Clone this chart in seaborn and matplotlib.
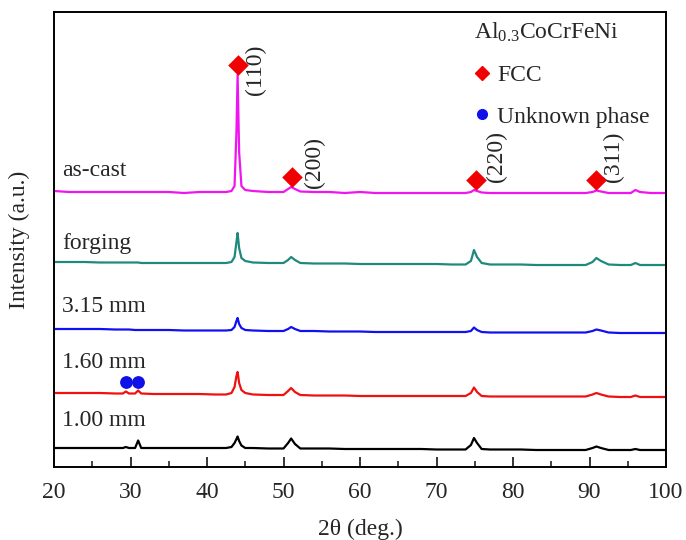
import numpy as np
import pandas as pd
import matplotlib
matplotlib.use("Agg")
import matplotlib.pyplot as plt
from matplotlib.lines import Line2D
from matplotlib.ticker import MultipleLocator
import seaborn as sns

# ---------------- data ----------------
two_theta = [20, 22, 24, 26, 28, 29.0, 29.4, 29.8, 30.6, 31.0, 31.4, 33, 35, 37, 39, 41,
             42.5, 43.2, 43.6, 43.85, 44.0, 44.2, 44.5, 45.0, 46, 48,
             50.0, 50.6, 51.0, 51.5, 52.2, 54, 56, 58, 60, 62, 64, 66, 68, 70, 72,
             73.8, 74.5, 74.9, 75.3, 75.9, 77, 79, 81, 83, 85, 87,
             89.5, 90.4, 90.9, 91.5, 92.5, 94, 95.4, 96.0, 96.6, 98, 100]

samples = ["as-cast", "forging", "3.15 mm", "1.60 mm", "1.00 mm"]
offsets = [275, 205, 138, 74, 19]

int_ascast = [1, 0, 0, 0, 0, 0, 0, 0, 0, 0, 0, 0, 0, -1, 0, 0,
              0, 1, 6, 60, 117, 40, 6, 2, 1, 0,
              0, 3, 5, 3, 0.5, 0, 0, -1, 0, -1, -1, -1, -1, -1, -1,
              -1, 0, 2, 1, -0.5, -1, -1, -1, -1, -1, -1,
              -1, 0, 1.5, 0.5, -1, -1, -1, 2, 0, -1, -1]
int_forging = [0, 0, 0, -0.5, -0.5, -0.5, -0.5, -0.5, -0.5, -0.5, -1, -1, -1, -1, -1, -1,
               -1, 0, 5, 20, 29, 14, 4, 1, -0.5, -1,
               -1, 2, 5, 2, -1, -1.5, -1.5, -1.5, -2, -2, -2, -2, -2, -2, -2.5,
               -2.5, 1, 12, 5, -1, -2.5, -2.5, -2.5, -3, -3, -3,
               -3, 0, 4, 1, -2.5, -3, -3, -1, -3, -3, -3]
int_315 = [0, 0, 0, 0, -0.5, -0.5, -0.5, -0.5, -1, -1, -1, -1, -1, -1.5, -1.5, -1.5,
           -1.5, -1, 2, 8, 11, 5, 1, -1, -1.5, -2,
           -2, 0, 2, 0, -2, -2, -2.5, -2.5, -2.5, -3, -3, -3, -3, -3, -3,
           -3, -2, 1.5, -1, -3, -3.5, -3.5, -3.5, -3.5, -3.5, -3.5,
           -3.5, -2, -0.5, -1.5, -3.5, -4, -4, -4, -4, -4, -4]
int_160 = [0, 0, 0, 0, -0.5, -0.5, 1.5, -0.5, -0.5, 2.5, -0.5, -1, -1, -1, -1, -1.5,
           -1.5, 0, 6, 17, 21, 10, 3, 0, -1.5, -2,
           -2, 2, 5, 1, -2, -2.5, -2.5, -2.5, -3, -3, -3, -3, -3, -3, -3,
           -3, 0, 5.5, 1, -3, -3.5, -3.5, -3.5, -3.5, -3.5, -3.5,
           -3.5, -1.5, 0, -1.5, -3.5, -4, -4, -2.5, -4, -4, -4]
int_100 = [0, 0, 0, 0, 0, 0, 1, 0, 0, 7.5, 0, 0, 0, 0, 0, 0,
           0, 1, 5, 9, 11.5, 7, 2.5, 0, 0, -0.5,
           -0.5, 5, 9.5, 4, -0.5, -0.5, -0.5, -1, -1, -1, -1, -1, -1, -1.5, -1.5,
           -1.5, 3, 10, 5, -1, -1.5, -1.5, -1.5, -2, -2, -2,
           -2, 0, 1.5, 0, -2, -2, -2, -1, -2, -2, -2]
intensities = [int_ascast, int_forging, int_315, int_160, int_100]

colors = ["#F014F0", "#1F8A7C", "#1010F0", "#F01010", "#000000"]

# peak markers
fcc_x = [44.0, 51.1, 75.2, 90.9]
fcc_y = [402, 290, 287, 287]
hkl_labels = ["(110)", "(200)", "(220)", "(311)"]
hkl_x = [46.3, 54.1, 77.9, 93.1]
hkl_y = [397, 305, 310, 310]
unk_x = [29.4, 31.0]
unk_y = [85, 85]

label_x = 21.1
label_y = [297, 224, 160, 105, 47]

# ---------------- build frame ----------------
rows = []
for s, off, inten in zip(samples, offsets, intensities):
    for x, v in zip(two_theta, inten):
        rows.append({"2theta": x, "I": off + v, "sample": s})
df = pd.DataFrame(rows)

# ---------------- plot ----------------
sns.set_theme(style="ticks")
plt.rcParams["font.family"] = ["Liberation Serif", "DejaVu Serif"]
plt.rcParams["mathtext.fontset"] = "custom"
plt.rcParams["mathtext.rm"] = "Liberation Serif"
plt.rcParams["mathtext.it"] = "Liberation Serif:italic"
FS = 17

fig = plt.figure(figsize=(6.86, 5.40), dpi=100)
ax = fig.add_axes([54 / 686, 1 - 467 / 540, 612 / 686, 455 / 540])

sns.lineplot(data=df, x="2theta", y="I", hue="sample", hue_order=samples,
             palette=dict(zip(samples, colors)), linewidth=1.6, legend=False,
             estimator=None, sort=False, ax=ax)

ax.scatter(fcc_x, fcc_y, marker="D", s=110, color="#F00000", zorder=5, linewidths=0)
ax.scatter(unk_x, unk_y, marker="o", s=85, color="#1010E8", zorder=5, linewidths=0)
for hx, hy, t in zip(hkl_x, hkl_y, hkl_labels):
    ax.text(hx, hy, t, rotation=90, ha="center", va="center", fontsize=FS)
for s, ly in zip(samples, label_y):
    ax.text(label_x, ly, s, ha="left", va="center", fontsize=FS)

handles = [Line2D([], [], marker="D", color="#F00000", ls="none", markersize=7),
           Line2D([], [], marker="o", color="#1010E8", ls="none", markersize=7)]
leg = ax.legend(handles, ["FCC", "Unknown phase"], title=r"Al$_{0.3}$CoCrFeNi",
                loc="upper left", bbox_to_anchor=(0.687, 0.980), frameon=False,
                fontsize=FS, title_fontsize=FS, handlelength=0.6, handletextpad=0.35,
                labelspacing=0.85, borderpad=0, borderaxespad=0, alignment="left")

ax.set_xlim(20, 100)
ax.set_ylim(0, 455)
ax.xaxis.set_major_locator(MultipleLocator(10))
ax.xaxis.set_minor_locator(MultipleLocator(5))
ax.tick_params(axis="x", which="major", direction="in", length=7, width=1.3,
               labelsize=FS, pad=11, top=False)
ax.tick_params(axis="x", which="minor", direction="in", length=4, width=1.2, top=False)
ax.set_yticks([])
ax.tick_params(axis="y", left=False, right=False)
for sp in ax.spines.values():
    sp.set_visible(True)
    sp.set_linewidth(1.4)
    sp.set_color("black")

ax.set_xlabel("2θ (deg.)", fontsize=FS, labelpad=11)
ax.set_ylabel("Intensity (a.u.)", fontsize=FS, labelpad=17)

fig.savefig("out.png", dpi=100)
